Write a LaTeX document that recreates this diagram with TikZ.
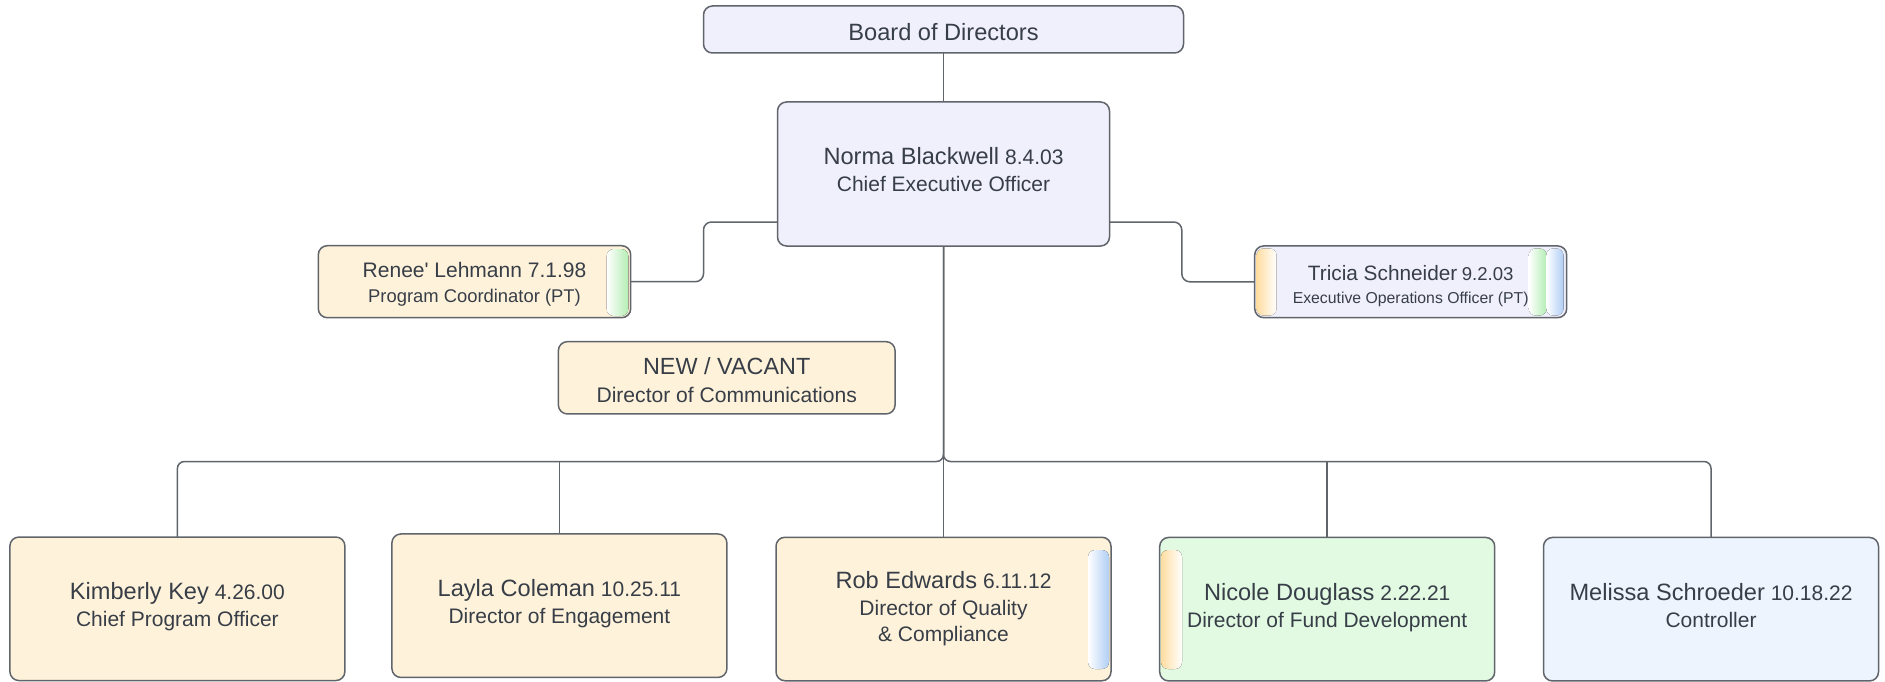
\documentclass[tikz,border=0pt]{standalone}
\usepackage{fontspec}
\setmainfont{Liberation Sans}
\definecolor{ink}{HTML}{373E47}
\definecolor{edge}{HTML}{60646B}
\definecolor{lav}{HTML}{F0F0FC}
\definecolor{cream}{HTML}{FFF2DA}
\definecolor{mint}{HTML}{E2F9E2}
\definecolor{sky}{HTML}{EDF4FE}
\definecolor{tabgreen}{HTML}{B3EDB3}
\definecolor{tabblue}{HTML}{B0CEF5}
\definecolor{taborange}{HTML}{FFDDA0}
\newcommand\pname[1]{{\fontsize{23.6}{27}\selectfont #1}}
\tikzset{
  box/.style={draw=edge, line width=1.5, rounded corners=9, inner sep=0, outer sep=0,
    text=ink, align=center, font=\fontsize{21}{27}\selectfont},
  wide/.style={minimum width=335, minimum height=143.5},
  link/.style={draw=edge, line width=1.5},
  tab/.style={rounded corners=7},
}
\begin{document}
\begin{tikzpicture}[x=1pt, y=-1pt]
\useasboundingbox (0,0) rectangle (1885,682);
\fill[white] (0,0) rectangle (1885,682);

% top of the chart
\node[box, fill=lav, minimum width=480, minimum height=47, text height=22] (board) at (943.5,29.5)
  {\pname{Board of Directors}};
\node[box, fill=lav, minimum width=332, minimum height=144, text depth=10] (ceo) at (943.5,174)
  {\pname{Norma Blackwell} 8.4.03\\Chief Executive Officer};

% assistants beside the CEO
\node[box, fill=cream, minimum width=312.4, minimum height=72, text height=45,
      font=\fontsize{18.4}{25}\selectfont] (renee) at (474.5,281.7)
  {{\fontsize{21}{25}\selectfont Renee\textquotesingle{} Lehmann 7.1.98}\\Program Coordinator (PT)};
\node[box, fill=lav, minimum width=312, minimum height=71.7, text height=46,
      font=\fontsize{15.8}{23}\selectfont] (tricia) at (1410.7,281.8)
  {{\fontsize{20.8}{23}\selectfont Tricia Schneider} {\fontsize{18.6}{23}\selectfont 9.2.03}\\Executive Operations Officer (PT)};
\node[box, fill=cream, minimum width=336.7, minimum height=72.3, text height=50,
      font=\fontsize{21.1}{28}\selectfont] (vacant) at (726.7,377.8)
  {{\fontsize{23.4}{28}\selectfont NEW / VACANT}\\Director of Communications};

% directors
\node[box, wide, fill=cream, text depth=8] (kim) at (177.4,608.8)
  {\pname{Kimberly Key} 4.26.00\\Chief Program Officer};
\node[box, wide, fill=cream, text depth=8] (layla) at (559.4,605.7)
  {\pname{Layla Coleman} 10.25.11\\Director of Engagement};
\node[box, wide, fill=cream, font=\fontsize{21}{26.5}\selectfont] (rob) at (943.5,609)
  {\pname{Rob Edwards} 6.11.12\\Director of Quality\\\& Compliance};
\node[box, wide, fill=mint, text depth=8] (nic) at (1327.2,609.2)
  {\pname{Nicole Douglass} 2.22.21\\Director of Fund Development};
\node[box, wide, fill=sky, text depth=7] (mel) at (1711,609.2)
  {\pname{Melissa Schroeder} 10.18.22\\Controller};

% coloured tabs inside the boxes
\fill[tab, left color=white, right color=tabgreen] (606.7,249) rectangle (628.3,316);
\fill[tab, left color=taborange, right color=white] (1256.5,248.5) rectangle (1276.5,315.5);
\fill[tab, left color=white, right color=tabgreen] (1528.7,248.5) rectangle (1546.7,315.5);
\fill[tab, left color=white, right color=tabblue] (1546.2,248.5) rectangle (1563.5,315.5);
\fill[tab, left color=white, right color=tabblue] (1088,550) rectangle (1109,669);
\fill[tab, left color=taborange, right color=white] (1161,550) rectangle (1182,669);

% reporting lines
\coordinate (hub) at (ceo.south |- 0,461.5);
\draw[link] (board.south) -- (ceo.north);
\draw[link, rounded corners=8] ([yshift=24]ceo.south west) -- ++(-74,0) |- (renee.east);
\draw[link, rounded corners=8] ([yshift=24]ceo.south east) -- ++(72.3,0) |- (tricia.west);
\draw[link, rounded corners=7] (ceo.south) -- (hub) -| (kim.north);
\draw[link, rounded corners=7] (ceo.south) -- (hub) -| (mel.north);
\draw[link] (ceo.south) -- (rob.north);
\draw[link] (hub -| layla.north) -- (layla.north);
\draw[link] (hub -| nic.north) -- (nic.north);
\end{tikzpicture}
\end{document}
